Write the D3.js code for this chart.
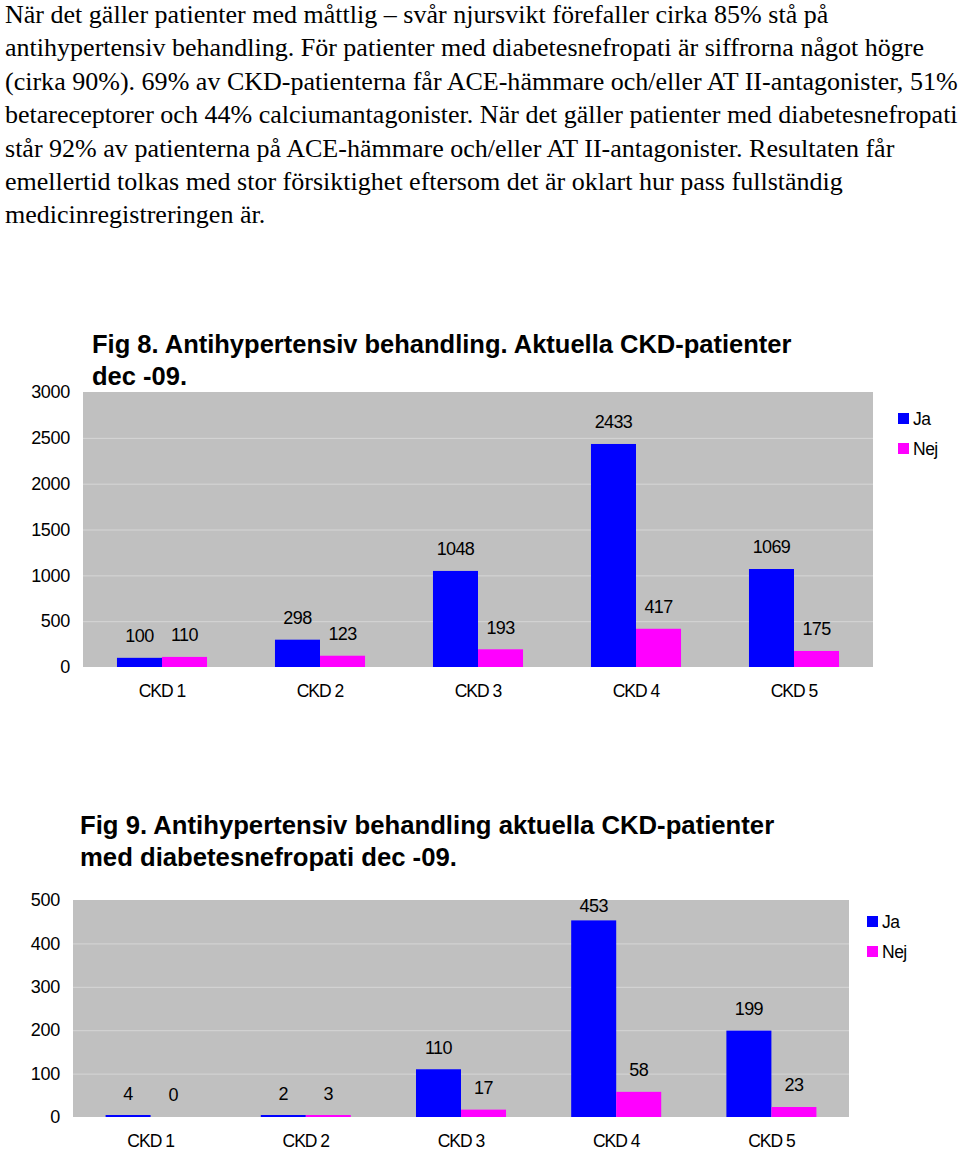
<!DOCTYPE html>
<html>
<head>
<meta charset="utf-8">
<script src="https://cdn.jsdelivr.net/npm/d3@7"></script>
<style>
  html, body { margin: 0; padding: 0; background: #fff; }
  svg { display: block; }
</style>
</head>
<body>
<svg id="page" width="960" height="1151"></svg>
<script>
// ---------- DATA ----------
const paragraphLines = [
  "När det gäller patienter med måttlig – svår njursvikt förefaller cirka 85% stå på",
  "antihypertensiv behandling. För patienter med diabetesnefropati är siffrorna något högre",
  "(cirka 90%). 69% av CKD-patienterna får ACE-hämmare och/eller AT II-antagonister, 51%",
  "betareceptorer och 44% calciumantagonister. När det gäller patienter med diabetesnefropati",
  "står 92% av patienterna på ACE-hämmare och/eller AT II-antagonister. Resultaten får",
  "emellertid tolkas med stor försiktighet eftersom det är oklart hur pass fullständig",
  "medicinregistreringen är."
];
const categories = ["CKD 1", "CKD 2", "CKD 3", "CKD 4", "CKD 5"];
const seriesNames = ["Ja", "Nej"];
const seriesColors = ["#0000ff", "#ff00ff"];

const fig8Title = ["Fig 8. Antihypertensiv behandling. Aktuella CKD-patienter", "dec -09."];
const fig8Ja  = [100, 298, 1048, 2433, 1069];
const fig8Nej = [110, 123, 193, 417, 175];
const fig8Ticks = [0, 500, 1000, 1500, 2000, 2500, 3000];

const fig9Title = ["Fig 9. Antihypertensiv behandling aktuella CKD-patienter", "med diabetesnefropati dec -09."];
const fig9Ja  = [4, 2, 110, 453, 199];
const fig9Nej = [0, 3, 17, 58, 23];
const fig9Ticks = [0, 100, 200, 300, 400, 500];

// ---------- PAGE ----------
const svg = d3.select("#page");
const sans = "'Liberation Sans', Arial, Helvetica, sans-serif";

// paragraph
const para = svg.append("g")
  .attr("font-family", "'Liberation Serif', 'Times New Roman', serif")
  .attr("fill", "#000");
const probe = para.append("text").attr("font-size", 22).text(paragraphLines[2]);
const natural = probe.node().getComputedTextLength();
probe.remove();
const paraSize = 22 * 953 / natural;
paragraphLines.forEach((line, i) => {
  para.append("text")
    .attr("x", 5)
    .attr("y", 23 + i * 33.4)
    .attr("font-size", paraSize)
    .text(line);
});

function drawChart(cfg) {
  const g = svg.append("g").attr("font-family", sans);
  const { left, right, top, bottom } = cfg;

  // title
  cfg.title.forEach((t, i) => {
    g.append("text")
      .attr("x", cfg.titleX)
      .attr("y", cfg.titleY + i * 32)
      .attr("font-size", cfg.titleSize)
      .attr("font-weight", "bold")
      .attr("fill", "#000")
      .text(t);
  });

  const y = d3.scaleLinear().domain([0, cfg.max]).range([bottom, top]);
  const x0 = d3.scaleBand().domain(categories).range([left, right])
    .paddingInner(cfg.pad).paddingOuter(cfg.pad / 2);
  const x1 = d3.scaleBand().domain(seriesNames).range([0, x0.bandwidth()]);

  // plot background
  g.append("rect")
    .attr("x", left).attr("y", top)
    .attr("width", right - left).attr("height", bottom - top)
    .attr("fill", "#c0c0c0");

  // gridlines
  const grid = g.append("g").attr("transform", `translate(${left},0)`)
    .call(d3.axisLeft(y).tickValues(cfg.ticks.filter(v => v > 0 && v < cfg.max))
      .tickSize(-(right - left)).tickFormat(""));
  grid.select(".domain").remove();
  grid.selectAll("line").attr("stroke", "#d6d6d6").attr("stroke-width", 1);

  // y axis labels
  const ya = g.append("g").attr("transform", `translate(${cfg.tickRight},0)`)
    .call(d3.axisLeft(y).tickValues(cfg.ticks).tickSize(0).tickPadding(0).tickFormat(d3.format("d")));
  ya.select(".domain").remove();
  ya.selectAll("text").attr("font-size", 18).attr("fill", "#000")
    .attr("letter-spacing", "-0.3px")
    .attr("font-family", sans);

  // x axis labels
  const xa = g.append("g").attr("transform", `translate(0,${bottom})`)
    .call(d3.axisBottom(x0).tickSize(0).tickPadding(18));
  xa.select(".domain").remove();
  xa.selectAll("text").attr("font-size", 17.5).attr("fill", "#000")
    .attr("letter-spacing", "-1px")
    .attr("font-family", sans);

  // bars
  const rows = categories.map((c, i) => ({ cat: c, vals: [cfg.ja[i], cfg.nej[i]] }));
  const grp = g.append("g").selectAll("g").data(rows).join("g")
    .attr("transform", d => `translate(${x0(d.cat)},0)`);
  grp.selectAll("rect")
    .data(d => d.vals.map((v, k) => ({ v, k })))
    .join("rect")
    .attr("x", d => x1(seriesNames[d.k]))
    .attr("y", d => y(d.v))
    .attr("width", x1.bandwidth())
    .attr("height", d => Math.max(0, bottom - y(d.v)) || 0)
    .attr("fill", d => seriesColors[d.k]);
  // tiny values: ensure a visible sliver like the reference
  grp.selectAll("rect").filter(d => d.v > 0 && bottom - y(d.v) < 2)
    .attr("y", bottom - 2).attr("height", 2);

  // value labels
  grp.selectAll("text.val")
    .data(d => d.vals.map((v, k) => ({ v, k })))
    .join("text")
    .attr("class", "val")
    .attr("x", d => x1(seriesNames[d.k]) + x1.bandwidth() / 2)
    .attr("y", d => Math.max(y(d.v) - 22, top + 6))
    .attr("dy", "0.35em")
    .attr("text-anchor", "middle")
    .attr("font-size", 18)
    .attr("letter-spacing", "-0.6px")
    .attr("fill", "#000")
    .text(d => d.v);

  // legend
  const lg = g.append("g");
  seriesNames.forEach((s, i) => {
    lg.append("rect")
      .attr("x", cfg.legendX).attr("y", cfg.legendY + i * 30)
      .attr("width", 11).attr("height", 11)
      .attr("fill", seriesColors[i]);
    lg.append("text")
      .attr("x", cfg.legendX + 15).attr("y", cfg.legendY + 5.5 + i * 30)
      .attr("dy", "0.35em")
      .attr("font-size", 17.5)
      .attr("letter-spacing", "-0.5px")
      .attr("fill", "#000")
      .text(s);
  });
}

drawChart({
  title: fig8Title, titleX: 92, titleY: 353, titleSize: 25.5,
  ja: fig8Ja, nej: fig8Nej, ticks: fig8Ticks, max: 3000,
  left: 83, right: 873, top: 392, bottom: 667, pad: 0.43,
  tickRight: 70, legendX: 898, legendY: 413
});

drawChart({
  title: fig9Title, titleX: 80, titleY: 834, titleSize: 25.7,
  ja: fig9Ja, nej: fig9Nej, ticks: fig9Ticks, max: 500,
  left: 73, right: 849, top: 900, bottom: 1117, pad: 0.42,
  tickRight: 60, legendX: 867, legendY: 916
});
</script>
</body>
</html>
